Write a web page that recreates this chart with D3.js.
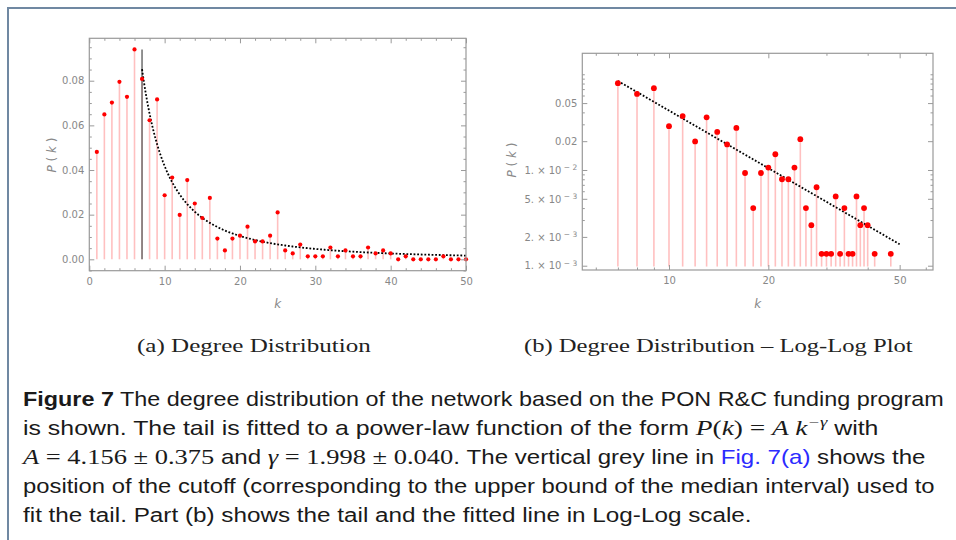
<!DOCTYPE html>
<html><head><meta charset="utf-8">
<script src="https://cdn.jsdelivr.net/npm/d3@7"></script>
<style>body{margin:0;background:#fff}svg{display:block}</style>
</head><body>
<svg id="fig" width="956" height="540"></svg>
<script>
// ---------------- data ----------------
const kValues = [1,2,3,4,5,6,7,8,9,10,11,12,13,14,15,16,17,18,19,20,21,22,23,24,25,26,27,28,29,30,31,32,33,34,35,36,37,38,39,40,41,42,43,44,45,46,47,48,49,50];
const pValues = [0.0481,0.0649,0.0702,0.0795,0.0728,0.0940,0.0808,0.0623,0.0716,0.0287,
                 0.0366,0.0199,0.0355,0.0250,0.0185,0.0275,0.0093,0.0040,0.0093,0.0106,
                 0.0146,0.0080,0.0080,0.0106,0.0210,0.0040,0.00265,0.0066,0.00133,0.00133,
                 0.00133,0.0053,0.00133,0.0040,0.00133,0.00133,0.0053,0.00265,0.0040,0.00265,
                 0,0.00133,0,0,0,0,0.00133,0,0,0];
const fitA = 4.156;
const fitGamma = 1.998;
const cutoffK = 7;
const fitKMax = 50;

const linXMajor = [0,10,20,30,40,50];
const linXMinor = [2,4,6,8,12,14,16,18,22,24,26,28,32,34,36,38,42,44,46,48];
const linYMajor = [0,0.02,0.04,0.06,0.08];
const linYMinor = [-0.005,0.005,0.01,0.015,0.025,0.03,0.035,0.045,0.05,0.055,0.065,0.07,0.075,0.085,0.09,0.095];
const logXMajor = [10,20,50];
const logXLabels = ["10","20","50"];
const logXMinor = [6,7,8,9,30,40,60];
const logYMajor = [0.05,0.02,0.01,0.005,0.002,0.001];
const logYLabels = ["0.05","0.02","1. × 10^−2","5. × 10^−3","2. × 10^−3","1. × 10^−3"];
const logYMinor = [0.003,0.004,0.006,0.007,0.008,0.009,0.03,0.04,0.06,0.07,0.08,0.09,0.1];
const logStemBase = 0.00098;

const subCaptions = ["(a)  Degree Distribution", "(b)  Degree Distribution – Log-Log Plot"];
const captionLines = [
  [["bold","Figure 7"],["sans"," The degree distribution of the network based on the PON R&C funding program"]],
  [["sans","is shown. The tail is fitted to a power-law function of the form "],["it","P"],["rm","("],["it","k"],["rm",") = "],["it","A k"],["sup","−γ"],["sans"," with"]],
  [["it","A"],["rm"," = 4.156 ± 0.375"],["sans"," and "],["it","γ"],["rm"," = 1.998 ± 0.040"],["sans",". The vertical grey line in "],["blue","Fig. 7(a)"],["sans"," shows the"]],
  [["sans","position of the cutoff (corresponding to the upper bound of the median interval) used to"]],
  [["sans","fit the tail. Part (b) shows the tail and the fitted line in Log-Log scale."]]
];

// ---------------- drawing ----------------
const svg = d3.select("#fig");
svg.append("rect").attr("width",956).attr("height",540).attr("fill","#fff");
// page border
svg.append("line").attr("x1",7).attr("x2",956).attr("y1",8).attr("y2",8).attr("stroke","#7088a2").attr("stroke-width",2);
svg.append("line").attr("x1",8).attr("x2",8).attr("y1",8).attr("y2",540).attr("stroke","#7088a2").attr("stroke-width",2);

const data = kValues.map((k,i)=>({k, p:pValues[i]}));
const FRAME = "#9a9a9a", LABEL = "#888", STEM = "#ffc0c0", DOT = "#ff0000";

function frameAxes(g, xs, ys, box, o){
  const mk = (axisFn, scale, vals, size, fmt, pad) => axisFn(scale).tickValues(vals).tickSize(-size).tickPadding(pad||0).tickFormat(fmt || (()=>""));
  const parts = [
    [d3.axisBottom, xs, o.xMajor, 5, o.xFmt, 7, `translate(0,${box.y1})`],
    [d3.axisBottom, xs, o.xMinor, 2.5, null, 0, `translate(0,${box.y1})`],
    [d3.axisTop, xs, o.xMajor, 5, null, 0, `translate(0,${box.y0})`],
    [d3.axisTop, xs, o.xMinor, 2.5, null, 0, `translate(0,${box.y0})`],
    [d3.axisLeft, ys, o.yMajor, 5, o.yFmt, 5, `translate(${box.x0},0)`],
    [d3.axisLeft, ys, o.yMinor, 2.5, null, 0, `translate(${box.x0},0)`],
    [d3.axisRight, ys, o.yMajor, 5, null, 0, `translate(${box.x1},0)`],
    [d3.axisRight, ys, o.yMinor, 2.5, null, 0, `translate(${box.x1},0)`]
  ];
  parts.forEach(([fn, sc, vals, size, fmt, pad, tr])=>{
    const a = g.append("g").attr("transform", tr).call(mk(fn, sc, vals, size, fmt, pad));
    a.select(".domain").remove();
    a.selectAll(".tick line").attr("stroke", FRAME).attr("stroke-width",1);
    a.selectAll(".tick text").attr("fill", LABEL).attr("font-size",10).attr("font-family","DejaVu Sans");
    a.selectAll(".tick").filter(d => { const v = (fn===d3.axisBottom||fn===d3.axisTop)? sc(d):sc(d); return (fn===d3.axisBottom||fn===d3.axisTop)? (v<box.x0-0.5||v>box.x1+0.5):(v>box.y1+0.5||v<box.y0-0.5);}).remove();
  });
  g.append("rect").attr("x",box.x0).attr("y",box.y0).attr("width",box.x1-box.x0).attr("height",box.y1-box.y0)
    .attr("fill","none").attr("stroke",FRAME).attr("stroke-width",1.2);
}

function axisLabels(g, box, yLabelX, yLabelY, xLabelY){
  const yl = g.append("text").attr("transform",`translate(${yLabelX},${yLabelY}) rotate(-90)`)
    .attr("text-anchor","middle").attr("fill",LABEL).attr("font-size",12).attr("font-family","DejaVu Sans");
  yl.append("tspan").attr("font-style","italic").text("P");
  yl.append("tspan").text(" ( ");
  yl.append("tspan").attr("font-style","italic").text("k");
  yl.append("tspan").text(" )");
  g.append("text").attr("x",(box.x0+box.x1)/2).attr("y",xLabelY).attr("text-anchor","middle")
    .attr("fill",LABEL).attr("font-size",12).attr("font-style","italic").attr("font-family","DejaVu Sans").text("k");
}

// ---- (a) linear plot ----
const boxA = {x0:89.3, x1:466, y0:38.3, y1:270.7};
const xA = d3.scaleLinear().domain([0,50]).range([boxA.x0, boxA.x1]);
const yA = d3.scaleLinear().domain([-0.0051,0.099]).range([boxA.y1, boxA.y0]);
const gA = svg.append("g");
gA.selectAll("line.stem").data(data.filter(d=>d.p>0)).join("line").attr("class","stem")
  .attr("x1",d=>xA(d.k)).attr("x2",d=>xA(d.k)).attr("y1",yA(0)).attr("y2",d=>yA(d.p))
  .attr("stroke",STEM).attr("stroke-width",1.6);
gA.append("line").attr("x1",xA(cutoffK)).attr("x2",xA(cutoffK)).attr("y1",yA(0)).attr("y2",yA(d3.max(pValues)))
  .attr("stroke","#6e6e6e").attr("stroke-width",1.5);
const fitKs = d3.range(cutoffK, fitKMax+0.001, 0.25);
gA.append("path").datum(fitKs).attr("fill","none").attr("stroke","#000").attr("stroke-width",1.8)
  .attr("stroke-dasharray","1.8,1.8")
  .attr("d", d3.line().x(k=>xA(k)).y(k=>yA(fitA*Math.pow(k,-fitGamma))));
gA.selectAll("circle").data(data).join("circle").attr("cx",d=>xA(d.k)).attr("cy",d=>yA(d.p)).attr("r",2.1).attr("fill",DOT);
frameAxes(gA, xA, yA, boxA, {xMajor:linXMajor, xMinor:linXMinor, yMajor:linYMajor, yMinor:linYMinor,
  xFmt:d3.format("d"), yFmt:d3.format(".2f")});
axisLabels(gA, boxA, 56, 155, 308);

// ---- (b) log-log plot ----
const boxB = {x0:582.3, x1:933, y0:53.3, y1:270};
const xB = d3.scaleLog().domain([5.461,63.1]).range([boxB.x0, boxB.x1]);
const yB = d3.scaleLog().domain([0.000902,0.1656]).range([boxB.y1, boxB.y0]);
const gB = svg.append("g");
const tail = data.filter(d=>d.k>=cutoffK && d.p>0);
gB.selectAll("line.stem").data(tail).join("line").attr("class","stem")
  .attr("x1",d=>xB(d.k)).attr("x2",d=>xB(d.k)).attr("y1",yB(logStemBase)).attr("y2",d=>yB(d.p))
  .attr("stroke",STEM).attr("stroke-width",1.6);
gB.append("path").datum([cutoffK, fitKMax]).attr("fill","none").attr("stroke","#000").attr("stroke-width",1.8)
  .attr("stroke-dasharray","1.8,1.8")
  .attr("d", d3.line().x(k=>xB(k)).y(k=>yB(fitA*Math.pow(k,-fitGamma))));
gB.selectAll("circle").data(tail).join("circle").attr("cx",d=>xB(d.k)).attr("cy",d=>yB(d.p)).attr("r",2.9).attr("fill",DOT);
frameAxes(gB, xB, yB, boxB, {xMajor:logXMajor, xMinor:logXMinor, yMajor:logYMajor, yMinor:logYMinor,
  xFmt:(d)=>logXLabels[logXMajor.indexOf(d)], yFmt:(d)=>logYLabels[logYMajor.indexOf(d)]});
// superscripts in log labels
gB.selectAll(".tick text").each(function(){
  const t = d3.select(this), s = t.text();
  if (s.indexOf("^")>=0){
    const [base, ex] = s.split("^");
    t.text(null);
    t.append("tspan").text(base);
    t.append("tspan").attr("dy","-0.45em").attr("font-size",7.5).text(" " + ex.split("").join(" "));
  }
});
axisLabels(gB, boxB, 516, 160, 308);

// ---- sub captions ----
function fitWidth(g, textSel, x, y, width){
  const len = textSel.node().getComputedTextLength();
  g.attr("transform",`translate(${x},${y}) scale(${width/len},1)`);
}
[[subCaptions[0],137,352,234],[subCaptions[1],524,352,389]].forEach(([s,x,y,w])=>{
  const g = svg.append("g");
  const t = g.append("text").attr("x",0).attr("y",0).attr("fill","#222").attr("font-size",18)
    .attr("font-family","Liberation Serif, DejaVu Serif, serif").text(s);
  fitWidth(g, t, x, y, w);
});

// ---- figure caption ----
const lineBase = [406, 435, 464, 493, 522];
const lineWidth = [921, 856, 903, 912, 729];
captionLines.forEach((segs, i)=>{
  const g = svg.append("g");
  const t = g.append("text").attr("x",0).attr("y",0).attr("fill","#1a1a1a").attr("font-size",20)
    .attr("font-family","Liberation Sans, DejaVu Sans, sans-serif");
  let raised = false;
  segs.forEach(([st, s])=>{
    const ts = t.append("tspan").text(s);
    if (raised && st!=="sup"){ ts.attr("dy", 8); raised=false; }
    if (st==="bold") ts.attr("font-weight","bold");
    if (st==="blue") ts.attr("fill","#2b2bff");
    if (st==="it") ts.attr("font-family","Liberation Serif, DejaVu Serif, serif").attr("font-style","italic").attr("font-size",22);
    if (st==="rm") ts.attr("font-family","Liberation Serif, DejaVu Serif, serif").attr("font-size",22);
    if (st==="sup"){ ts.attr("font-family","Liberation Serif, DejaVu Serif, serif").attr("font-style","italic").attr("font-size",15).attr("dy",-8); raised=true; }
  });
  fitWidth(g, t, 23, lineBase[i], lineWidth[i]);
});
</script>
</body></html>
